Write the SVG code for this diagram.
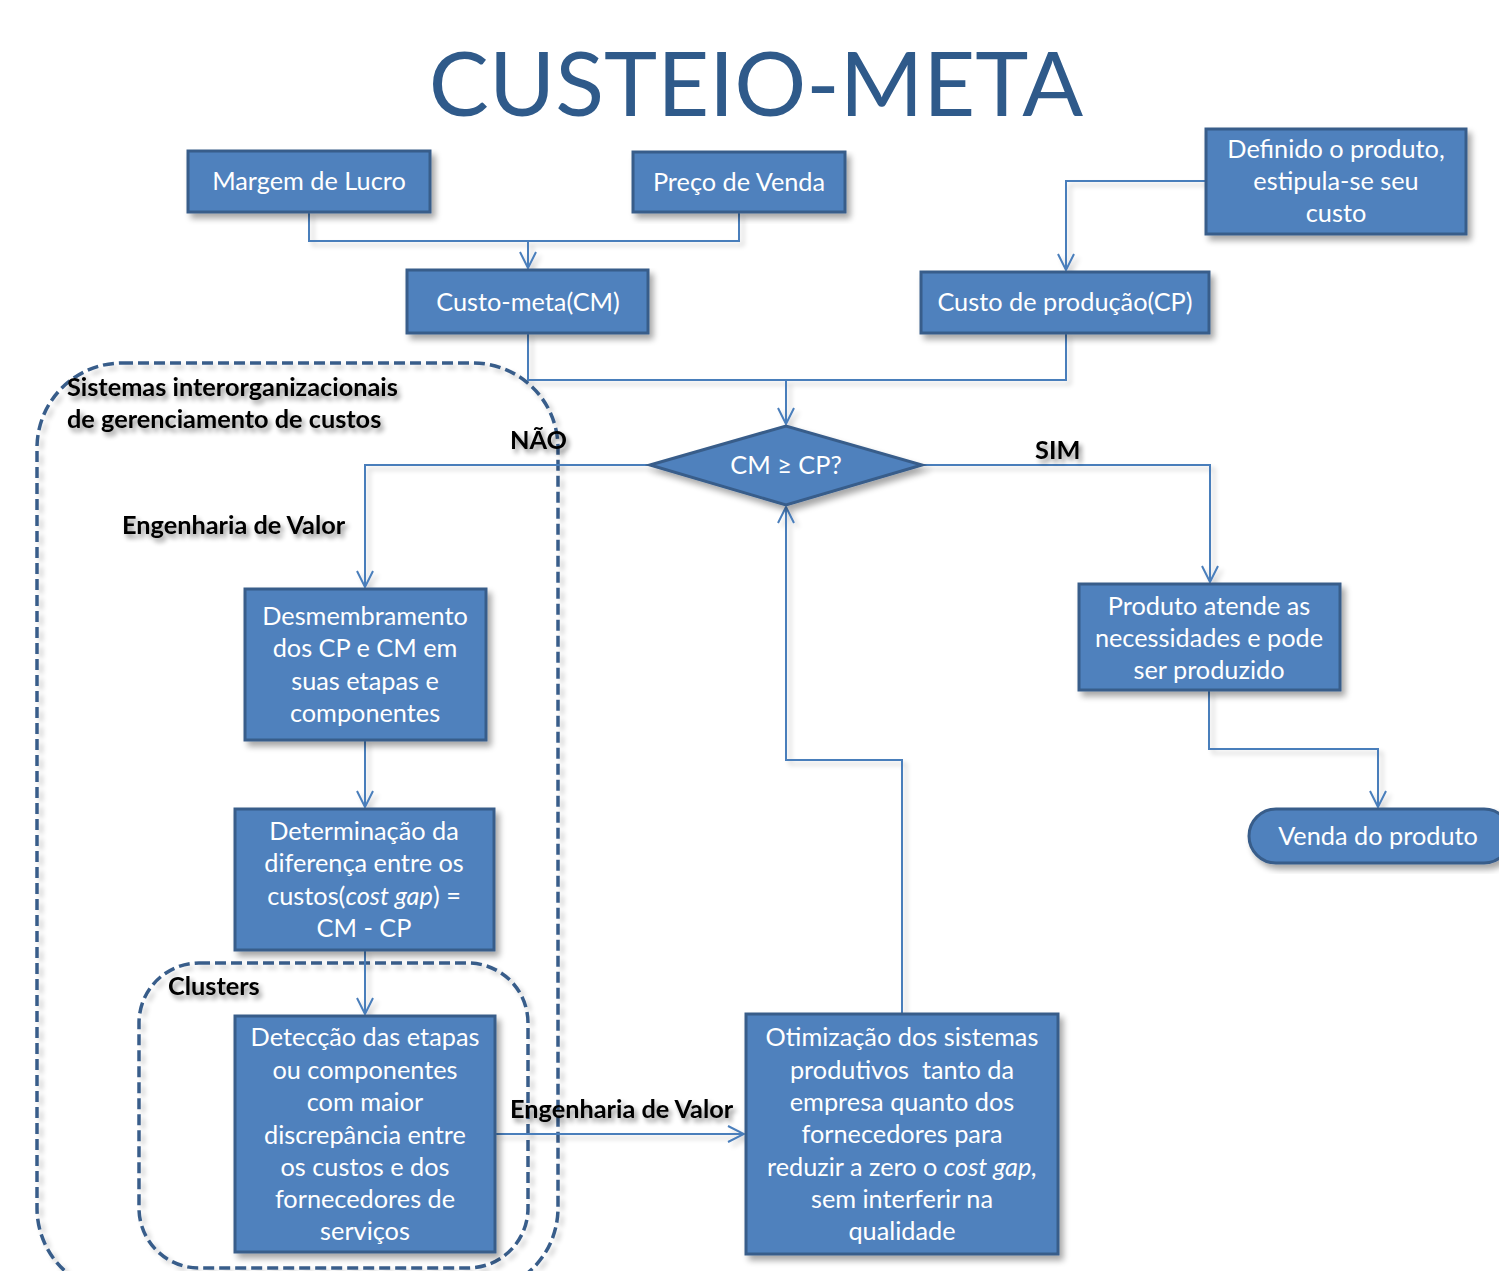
<svg xmlns="http://www.w3.org/2000/svg" width="1499" height="1271" viewBox="0 0 1499 1271">
  <defs>
    <filter id="boxShadow" x="-10%" y="-10%" width="130%" height="130%">
      <feGaussianBlur in="SourceAlpha" stdDeviation="3"/>
      <feOffset dx="4" dy="5" result="b"/>
      <feComponentTransfer><feFuncA type="linear" slope="0.35"/></feComponentTransfer>
      <feMerge><feMergeNode/><feMergeNode in="SourceGraphic"/></feMerge>
    </filter>
    <filter id="lineShadow" x="-10%" y="-10%" width="130%" height="130%">
      <feGaussianBlur in="SourceAlpha" stdDeviation="2.5"/>
      <feOffset dx="4" dy="4"/>
      <feComponentTransfer><feFuncA type="linear" slope="0.2"/></feComponentTransfer>
      <feMerge><feMergeNode/><feMergeNode in="SourceGraphic"/></feMerge>
    </filter>
    <filter id="textShadow" x="-10%" y="-30%" width="130%" height="170%">
      <feGaussianBlur in="SourceAlpha" stdDeviation="2.5"/>
      <feOffset dx="3" dy="4"/>
      <feComponentTransfer><feFuncA type="linear" slope="0.45"/></feComponentTransfer>
      <feMerge><feMergeNode/><feMergeNode in="SourceGraphic"/></feMerge>
    </filter>
    <marker id="arrow" viewBox="0 0 20 20" refX="18" refY="10" markerWidth="20" markerHeight="20" markerUnits="userSpaceOnUse" orient="auto">
      <path d="M2,2 L18,10 L2,18" fill="none" stroke="#4A7EBB" stroke-width="2"/>
    </marker>
    <style>
      .box { fill: #4F81BD; stroke: #385D8A; stroke-width: 3; filter: url(#boxShadow); }
      .bt { fill: #FFFFFF; font-family: Lato, "Open Sans", "Liberation Sans", sans-serif; font-size: 25.3px; text-anchor: middle; white-space: pre; }
      .lbl { fill: #000000; font-family: Lato, "Open Sans", "Liberation Sans", sans-serif; font-size: 25.3px; font-weight: bold; filter: url(#textShadow); }
      .con { fill: none; stroke: #4A7EBB; stroke-width: 2; }
      .dash { fill: none; stroke: #385D8A; stroke-width: 3.5; stroke-dasharray: 11 5; filter: url(#lineShadow); }
      .title { fill: #2F5A8A; font-family: Lato, "Open Sans", "Liberation Sans", sans-serif; font-size: 90px; text-anchor: middle; }
    </style>
  </defs>

  <rect width="1499" height="1271" fill="#FFFFFF"/>

  <text class="title" x="756" y="116">CUSTEIO-META</text>

  <!-- dashed grouping regions -->
  <g id="region-sistemas">
    <rect class="dash" x="37" y="363" width="521" height="930" rx="85" ry="85"/>
    <text class="lbl" x="67" y="396">Sistemas interorganizacionais</text>
    <text class="lbl" x="67" y="428">de gerenciamento de custos</text>
  </g>
  <g id="region-clusters">
    <rect class="dash" x="139" y="963" width="389" height="305" rx="60" ry="60"/>
    <text class="lbl" x="168" y="995">Clusters</text>
  </g>

  <!-- connectors -->
  <g id="connectors" filter="url(#lineShadow)">
    <path class="con" d="M309,212 V241 H739 V212"/>
    <path class="con" d="M528,241 V268" marker-end="url(#arrow)"/>
    <path class="con" d="M1206,181 H1066 V270" marker-end="url(#arrow)"/>
    <path class="con" d="M528,333 V380 H1066 V333"/>
    <path class="con" d="M786,380 V424" marker-end="url(#arrow)"/>
    <path class="con" d="M650,465 H365 V587" marker-end="url(#arrow)"/>
    <path class="con" d="M922,465 H1210 V582" marker-end="url(#arrow)"/>
    <path class="con" d="M365,740 V807" marker-end="url(#arrow)"/>
    <path class="con" d="M365,950 V1014" marker-end="url(#arrow)"/>
    <path class="con" d="M495,1134 H744" marker-end="url(#arrow)"/>
    <path class="con" d="M902,1014 V760 H786 V507" marker-end="url(#arrow)"/>
    <path class="con" d="M1209,690 V749 H1378 V807" marker-end="url(#arrow)"/>
  </g>

  <!-- connector labels -->
  <text class="lbl" x="510" y="449">NÃO</text>
  <text class="lbl" x="1035" y="459">SIM</text>
  <text class="lbl" x="122" y="534">Engenharia de Valor</text>
  <text class="lbl" x="510" y="1118">Engenharia de Valor</text>

  <!-- nodes -->
  <g id="margem-lucro">
    <rect class="box" x="188" y="151" width="242" height="61"/>
    <text class="bt" x="309" y="190">Margem de Lucro</text>
  </g>
  <g id="preco-venda">
    <rect class="box" x="633" y="152" width="212" height="60"/>
    <text class="bt" x="739" y="191">Preço de Venda</text>
  </g>
  <g id="custo-meta">
    <rect class="box" x="407" y="270" width="241" height="63"/>
    <text class="bt" x="528" y="311">Custo-meta(CM)</text>
  </g>
  <g id="definido-produto">
    <rect class="box" x="1206" y="129" width="260" height="105"/>
    <text class="bt" x="1336" y="158">Definido o produto,</text>
    <text class="bt" x="1336" y="190">estipula-se seu</text>
    <text class="bt" x="1336" y="222">custo</text>
  </g>
  <g id="custo-producao">
    <rect class="box" x="921" y="272" width="288" height="61"/>
    <text class="bt" x="1065" y="311">Custo de produção(CP)</text>
  </g>
  <g id="decisao">
    <polygon class="box" points="650,465 786,426 922,465 786,505"/>
    <text class="bt" x="786" y="474">CM ≥ CP?</text>
  </g>
  <g id="desmembramento">
    <rect class="box" x="245" y="589" width="241" height="151"/>
    <text class="bt" x="365" y="625">Desmembramento</text>
    <text class="bt" x="365" y="657">dos CP e CM em</text>
    <text class="bt" x="365" y="690">suas etapas e</text>
    <text class="bt" x="365" y="722">componentes</text>
  </g>
  <g id="determinacao">
    <rect class="box" x="235" y="809" width="259" height="141"/>
    <text class="bt" x="364" y="840">Determinação da</text>
    <text class="bt" x="364" y="872">diferença entre os</text>
    <text class="bt" x="364" y="905">custos(<tspan font-style="italic">cost gap</tspan>) =</text>
    <text class="bt" x="364" y="937">CM - CP</text>
  </g>
  <g id="deteccao">
    <rect class="box" x="235" y="1016" width="260" height="236"/>
    <text class="bt" x="365" y="1046">Detecção das etapas</text>
    <text class="bt" x="365" y="1079">ou componentes</text>
    <text class="bt" x="365" y="1111">com maior</text>
    <text class="bt" x="365" y="1144">discrepância entre</text>
    <text class="bt" x="365" y="1176">os custos e dos</text>
    <text class="bt" x="365" y="1208">fornecedores de</text>
    <text class="bt" x="365" y="1240">serviços</text>
  </g>
  <g id="otimizacao">
    <rect class="box" x="746" y="1014" width="312" height="240"/>
    <text class="bt" x="902" y="1046">Otimização dos sistemas</text>
    <text class="bt" x="902" y="1079">produtivos  tanto da</text>
    <text class="bt" x="902" y="1111">empresa quanto dos</text>
    <text class="bt" x="902" y="1143">fornecedores para</text>
    <text class="bt" x="902" y="1176">reduzir a zero o <tspan font-style="italic">cost gap,</tspan></text>
    <text class="bt" x="902" y="1208">sem interferir na</text>
    <text class="bt" x="902" y="1240">qualidade</text>
  </g>
  <g id="produto-atende">
    <rect class="box" x="1079" y="584" width="261" height="106"/>
    <text class="bt" x="1209" y="615">Produto atende as</text>
    <text class="bt" x="1209" y="647">necessidades e pode</text>
    <text class="bt" x="1209" y="679">ser produzido</text>
  </g>
  <g id="venda-produto">
    <rect class="box" x="1249" y="809" width="262" height="54" rx="27" ry="27"/>
    <text class="bt" x="1378" y="845">Venda do produto</text>
  </g>
</svg>
